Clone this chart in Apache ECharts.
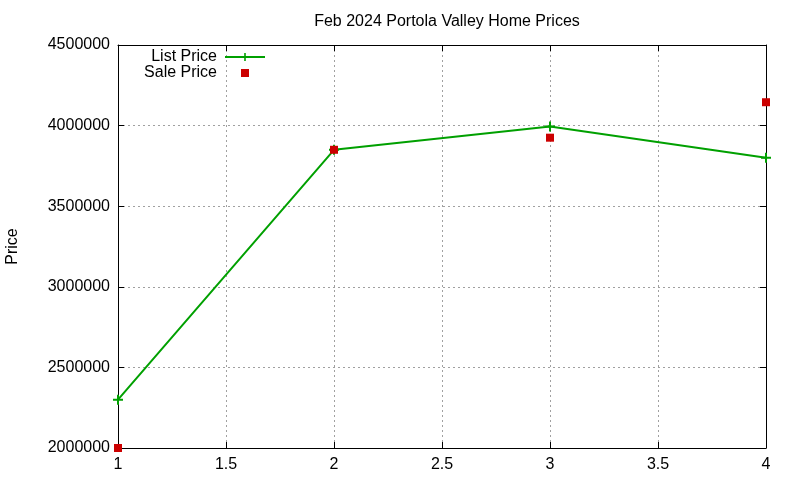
<!DOCTYPE html>
<html><head><meta charset="utf-8">
<script src="https://cdn.jsdelivr.net/npm/echarts@6/dist/echarts.min.js"></script>
<style>html,body{margin:0;padding:0;background:#fff}#c{width:800px;height:480px}</style>
</head><body><div id="c"></div>
<script>
const xValues = [1, 2, 3, 4];
const listPrice = [2300000, 3850000, 3995000, 3800000];
const salePrice = [2000000, 3850000, 3925000, 4145000];
const titleText = 'Feb 2024 Portola Valley Home Prices';
const yName = 'Price';

const chart = echarts.init(document.getElementById('c'), null, {renderer: 'canvas'});
const font = 'Liberation Sans, Arial, sans-serif';
const FS = 16;
const plus = 'path://M-1,-5H1V-1H5V1H1V5H-1V1H-5V-1H-1Z';
const legendSquare = 'path://M0,0L0,0ZM40,10L40,10ZM16,1H24V9H16Z';
const axisCommon = {
  type: 'value',
  axisLine: {show: true, onZero: false, lineStyle: {color: '#000', width: 1}},
  axisTick: {show: true, inside: true, length: 6, lineStyle: {color: '#000'}},
  splitLine: {show: false},
};
chart.setOption({
  animation: false,
  title: {text: titleText, left: 442, textAlign: 'center', top: 9,
    textStyle: {fontFamily: font, fontSize: FS, fontWeight: 'normal', color: '#000'}},
  legend: {
    orient: 'vertical', right: 534, top: 49, align: 'right', itemGap: 0, padding: 0,
    itemWidth: 40, itemHeight: 10, symbolKeepAspect: true,
    textStyle: {fontFamily: font, fontSize: FS, color: '#000', lineHeight: 16, padding: [0, 3, 0, 0]},
    data: ['List Price', {name: 'Sale Price', icon: legendSquare}]
  },
  grid: {left: 118, right: 34, top: 45, bottom: 32, containLabel: false, outerBoundsMode: 'none'},
  xAxis: [
    Object.assign({}, axisCommon, {min: 1, max: 4, interval: 0.5, position: 'bottom',
      axisLabel: {fontFamily: font, fontSize: FS, color: '#000', margin: 9},
      splitLine: {show: true, lineStyle: {color: '#a0a0a0', type: [2, 3], width: 1}}}),
    Object.assign({}, axisCommon, {min: 1, max: 4, interval: 0.5, position: 'top',
      axisLabel: {show: false}})
  ],
  yAxis: [
    Object.assign({}, axisCommon, {min: 2000000, max: 4500000, interval: 500000, position: 'left',
      name: yName, nameLocation: 'middle', nameGap: 97, nameRotate: 90,
      nameTextStyle: {fontFamily: font, fontSize: FS, color: '#000'},
      axisLabel: {fontFamily: font, fontSize: FS, color: '#000', margin: 8, formatter: v => String(v)},
      splitLine: {show: true, lineStyle: {color: '#a0a0a0', type: [2, 3], width: 1}}}),
    Object.assign({}, axisCommon, {min: 2000000, max: 4500000, interval: 500000, position: 'right',
      axisLabel: {show: false}})
  ],
  series: [
    {name: 'List Price', type: 'line', data: xValues.map((x, i) => [x, listPrice[i]]),
      symbol: plus, symbolSize: 10, showSymbol: true,
      itemStyle: {color: '#00a000'}, lineStyle: {color: '#00a000', width: 2}, z: 3},
    {name: 'Sale Price', type: 'scatter', data: xValues.map((x, i) => [x, salePrice[i]]),
      symbol: 'rect', symbolSize: 8, itemStyle: {color: '#cc0000', opacity: 1}, z: 4}
  ]
});
</script></body></html>
